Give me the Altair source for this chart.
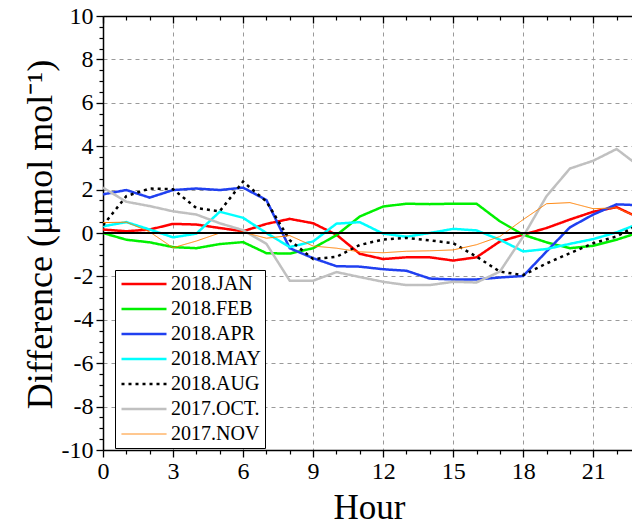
import altair as alt
import pandas as pd

hours = list(range(24))
series = ["2018.JAN", "2018.FEB", "2018.APR", "2018.MAY", "2018.AUG", "2017.OCT.", "2017.NOV"]

jan = [0.16, 0.08, 0.16, 0.42, 0.39, 0.23, 0.08, 0.42, 0.65, 0.45, -0.08, -0.96,
       -1.20, -1.12, -1.12, -1.27, -1.12, -0.39, -0.08, 0.23, 0.62, 0.98, 1.19, 0.68]
feb = [0.00, -0.31, -0.43, -0.65, -0.70, -0.51, -0.42, -0.93, -0.95, -0.70, -0.10, 0.76,
       1.22, 1.35, 1.33, 1.35, 1.35, 0.54, -0.08, -0.43, -0.70, -0.59, -0.31, 0.04]
apr = [1.78, 1.98, 1.63, 1.98, 2.05, 1.98, 2.09, 1.52, -0.70, -1.16, -1.53, -1.55,
       -1.67, -1.74, -2.10, -2.14, -2.14, -2.05, -1.98, -0.85, 0.26, 0.85, 1.32, 1.28]
may = [0.31, 0.50, 0.16, -0.20, -0.03, 0.98, 0.70, 0.00, -0.65, -0.39, 0.43, 0.50,
       -0.03, -0.17, 0.00, 0.19, 0.12, -0.31, -0.85, -0.74, -0.50, -0.28, 0.03, 0.45]
aug = [0.35, 1.70, 2.05, 2.02, 1.15, 1.00, 2.37, 1.45, -0.33, -1.20, -1.10, -0.55,
       -0.30, -0.23, -0.34, -0.47, -1.09, -1.78, -1.94, -1.40, -0.93, -0.47, -0.16, 0.42]
oct_ = [2.09, 1.44, 1.24, 1.00, 0.85, 0.45, 0.13, -0.50, -2.20, -2.20, -1.80, -2.03,
        -2.25, -2.40, -2.40, -2.25, -2.28, -1.78, -0.16, 1.70, 2.97, 3.33, 3.87, 3.05]
nov = [0.48, 0.50, 0.05, -0.68, -0.37, 0.00, 0.04, -0.24, -0.12, -0.60, -0.70, -0.87,
       -0.91, -0.84, -0.82, -0.78, -0.54, -0.16, 0.62, 1.35, 1.40, 1.12, 1.16, 0.69]

values = [jan, feb, apr, may, aug, oct_, nov]

colors = ["#FF0000", "#00F000", "#2040F0", "#00FFFF", "#000000", "#C0C0C0", "#FF8000"]
dashes = [[1, 0], [1, 0], [1, 0], [1, 0], [3, 4], [1, 0], [1, 0]]
widths = [2.5, 2.5, 2.5, 2.5, 2.5, 2.5, 1.0]

x_major = [0, 3, 6, 9, 12, 15, 18, 21]
x_minor = [h for h in range(0, 23) if h % 3 != 0]
y_major = list(range(-10, 11, 2))
y_minor = [v / 2 for v in range(-20, 21) if v % 4 != 0]

rows = []
for s, vals in zip(series, values):
    for h, v in zip(hours, vals):
        rows.append({"series": s, "hour": h, "value": v})
df = pd.DataFrame(rows)

FONT = "Liberation Serif"
W, H = 529, 434
xscale = alt.Scale(domain=[0, 22.66], nice=False, zero=False)
yscale = alt.Scale(domain=[-10, 10], nice=False, zero=False)

base = alt.Chart(df)

lines = base.mark_line(clip=True).encode(
    x=alt.X("hour:Q", scale=xscale,
            axis=alt.Axis(orient="bottom", values=x_major, title="Hour",
                          grid=True, gridDash=[4, 4], gridColor="#9a9a9a", gridWidth=1,
                          tickSize=7, tickColor="black", tickWidth=1.3,
                          domainColor="black", domainWidth=1.5,
                          labelFont=FONT, labelFontSize=24, labelColor="black",
                          labelPadding=2, labelFlush=False,
                          labelExpr="toString(datum.value)",
                          titleFont=FONT, titleFontSize=35, titleFontWeight="normal",
                          titleColor="black", titleX=266, titleY=68,
                          titleBaseline="alphabetic", titleAlign="center")),
    y=alt.Y("value:Q", scale=yscale,
            axis=alt.Axis(orient="left", values=y_major,
                          title="Difference (μmol mol⁻¹)",
                          grid=True, gridDash=[4, 4], gridColor="#9a9a9a", gridWidth=1,
                          tickSize=7, tickColor="black", tickWidth=1.3,
                          domainColor="black", domainWidth=1.5,
                          labelFont=FONT, labelFontSize=24, labelColor="black",
                          labelPadding=3, labelFlush=False,
                          labelExpr="toString(datum.value)",
                          titleFont=FONT, titleFontSize=36, titleFontWeight="normal",
                          titleColor="black", titleX=-63, titleY=218, titleAngle=270,
                          titleBaseline="middle", titleAlign="center")),
    color=alt.Color("series:N", sort=series,
                    scale=alt.Scale(domain=series, range=colors),
                    legend=alt.Legend(orient="none", legendX=12, legendY=254,
                                      title=None, symbolType="M-1,0H5", symbolSize=225,
                                      labelFont=FONT, labelFontSize=20, labelColor="black",
                                      labelOffset=32, padding=4, rowPadding=5,
                                      strokeColor="black", fillColor="white")),
    strokeDash=alt.StrokeDash("series:N", sort=series,
                              scale=alt.Scale(domain=series, range=dashes)),
    strokeWidth=alt.StrokeWidth("series:N", sort=series,
                                scale=alt.Scale(type="ordinal", domain=series, range=widths)),
)

zero = alt.Chart(pd.DataFrame({"y": [0]})).mark_rule(color="black", strokeWidth=2).encode(
    y=alt.Y("y:Q", scale=yscale, axis=None)
)

minor = base.mark_point(opacity=0).encode(
    x=alt.X("hour:Q", scale=xscale,
            axis=alt.Axis(orient="bottom", values=x_minor, labels=False, title=None,
                          grid=False, domain=False, tickSize=4, tickColor="black",
                          tickWidth=1.2)),
    y=alt.Y("value:Q", scale=yscale,
            axis=alt.Axis(orient="left", values=y_minor, labels=False, title=None,
                          grid=False, domain=False, tickSize=4, tickColor="black",
                          tickWidth=1.2)),
)

top_major = base.mark_point(opacity=0).encode(
    x=alt.X("hour:Q", scale=xscale,
            axis=alt.Axis(orient="bottom", offset=-H, values=x_major, labels=False,
                          title=None, grid=False, domain=True, domainColor="black",
                          domainWidth=1.5, tickSize=7, tickColor="black", tickWidth=1.3)),
    y=alt.Y("value:Q", scale=yscale, axis=None),
)

top_minor = base.mark_point(opacity=0).encode(
    x=alt.X("hour:Q", scale=xscale,
            axis=alt.Axis(orient="bottom", offset=-H, values=x_minor, labels=False,
                          title=None, grid=False, domain=False, tickSize=4,
                          tickColor="black", tickWidth=1.2)),
    y=alt.Y("value:Q", scale=yscale, axis=None),
)

chart = alt.layer(lines, zero, minor, top_major, top_minor).resolve_axis(
    x="independent", y="independent"
).properties(
    width=W, height=H,
    autosize=alt.AutoSizeParams(type="none"),
    padding={"left": 103, "top": 16, "right": 0, "bottom": 81},
    background="white",
).configure_view(stroke=None)

chart.save("out.html", embed_options={"renderer": "svg", "actions": False})
